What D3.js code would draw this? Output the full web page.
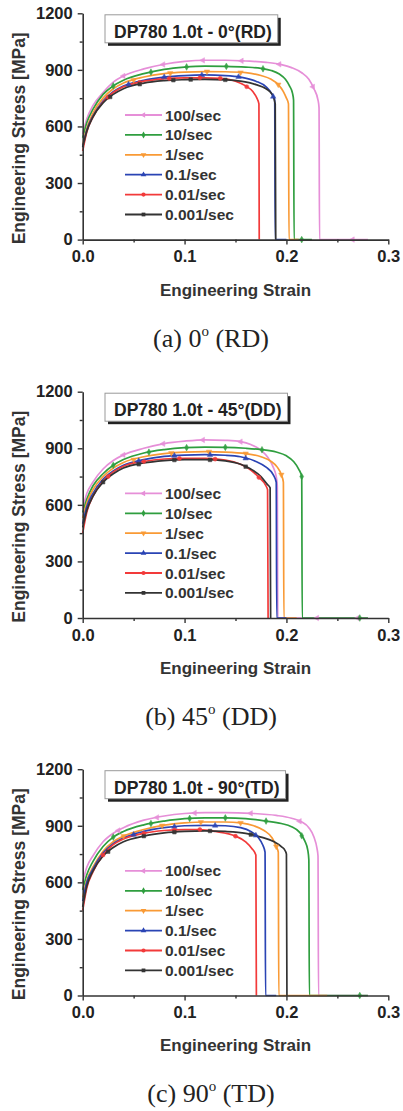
<!DOCTYPE html>
<html><head><meta charset="utf-8">
<script src="https://cdn.jsdelivr.net/npm/d3@7"></script>
<style>
body{margin:0;background:#fff;}
svg{display:block;}
</style></head>
<body>
<svg id="chart" width="403" height="1111"></svg>
<script>
// ---------------- DATA ----------------
const seriesNames = ["100/sec","10/sec","1/sec","0.1/sec","0.01/sec","0.001/sec"];
const panelTitles = ["DP780 1.0t - 0°(RD)","DP780 1.0t - 45°(DD)","DP780 1.0t - 90°(TD)"];
const captionLead = ["(a) 0","(b) 45","(c) 90"];
const captionTail = [" (RD)"," (DD)"," (TD)"];
const xTicks = [0.0,0.1,0.2,0.3];
const xMinor = [0.05,0.15,0.25];
const yTicks = [0,300,600,900,1200];
const yMinor = [150,450,750,1050];

// Panel (a) 0° RD : [strain, stress MPa]
const rd100 = [[0,560],[0.004,640],[0.01,710],[0.02,780],[0.03,835],[0.04,868],[0.06,905],[0.08,930],[0.10,945],[0.12,951],[0.14,951],[0.16,947],[0.18,940],[0.195,928],[0.205,912],[0.215,885],[0.222,850],[0.227,800],[0.231,740],[0.232,700],[0.2325,0],[0.28,0]];
const rd10  = [[0,540],[0.004,620],[0.01,690],[0.02,770],[0.03,815],[0.04,845],[0.06,880],[0.08,903],[0.10,915],[0.12,920],[0.14,919],[0.16,915],[0.175,908],[0.185,897],[0.193,878],[0.199,850],[0.203,815],[0.206,775],[0.207,740],[0.2075,0],[0.225,0]];
const rd1   = [[0,500],[0.004,590],[0.01,670],[0.02,750],[0.03,800],[0.04,830],[0.06,862],[0.08,880],[0.10,888],[0.12,891],[0.14,890],[0.16,885],[0.175,870],[0.185,850],[0.192,822],[0.197,785],[0.2,750],[0.202,720],[0.2025,0],[0.212,0]];
const rd01  = [[0,490],[0.004,580],[0.01,655],[0.02,735],[0.03,785],[0.04,815],[0.06,845],[0.08,862],[0.10,870],[0.12,873],[0.14,870],[0.155,862],[0.17,840],[0.18,810],[0.186,770],[0.1885,740],[0.189,0],[0.2,0]];
const rd001 = [[0,470],[0.004,570],[0.01,650],[0.02,730],[0.03,780],[0.04,810],[0.06,840],[0.08,853],[0.10,858],[0.12,858],[0.135,855],[0.15,840],[0.16,815],[0.167,785],[0.171,750],[0.173,720],[0.1733,0]];
const rd0001= [[0,490],[0.004,575],[0.01,650],[0.02,725],[0.03,770],[0.04,800],[0.06,830],[0.08,843],[0.10,848],[0.12,850],[0.14,847],[0.155,840],[0.17,822],[0.18,800],[0.186,770],[0.189,720],[0.1895,0]];

// Panel (b) 45° DD
const dd100 = [[0,580],[0.004,660],[0.01,720],[0.02,790],[0.03,835],[0.04,865],[0.06,900],[0.08,925],[0.10,938],[0.12,945],[0.14,942],[0.155,935],[0.165,920],[0.175,890],[0.182,850],[0.187,800],[0.19,750],[0.191,700],[0.1915,0],[0.28,0]];
const dd10  = [[0,560],[0.004,630],[0.01,700],[0.02,765],[0.03,810],[0.04,840],[0.06,875],[0.08,893],[0.10,903],[0.12,906],[0.14,905],[0.16,900],[0.175,893],[0.19,880],[0.2,860],[0.207,830],[0.212,790],[0.215,750],[0.2155,0],[0.28,0]];
const dd1   = [[0,530],[0.004,610],[0.01,680],[0.02,750],[0.03,795],[0.04,825],[0.06,855],[0.08,872],[0.10,880],[0.12,882],[0.14,880],[0.16,872],[0.175,855],[0.185,830],[0.191,800],[0.195,760],[0.197,720],[0.1975,0],[0.21,0]];
const dd01  = [[0,500],[0.004,590],[0.01,660],[0.02,735],[0.03,780],[0.04,810],[0.06,840],[0.08,857],[0.10,864],[0.12,866],[0.14,863],[0.155,855],[0.17,830],[0.18,800],[0.187,760],[0.19,720],[0.1905,0],[0.2,0]];
const dd001 = [[0,450],[0.004,560],[0.01,645],[0.02,725],[0.03,775],[0.04,805],[0.06,830],[0.08,843],[0.10,847],[0.12,847],[0.14,838],[0.155,815],[0.165,785],[0.173,745],[0.18,700],[0.1815,680],[0.182,0]];
const dd0001= [[0,480],[0.004,570],[0.01,645],[0.02,720],[0.03,765],[0.04,795],[0.06,822],[0.08,835],[0.10,840],[0.12,840],[0.14,833],[0.155,815],[0.165,790],[0.175,750],[0.181,710],[0.184,690],[0.1845,0]];

// Panel (c) 90° TD
const td100 = [[0,600],[0.004,680],[0.01,740],[0.02,815],[0.03,860],[0.04,890],[0.06,930],[0.08,952],[0.10,965],[0.12,970],[0.14,970],[0.165,966],[0.19,955],[0.205,940],[0.215,920],[0.222,890],[0.227,840],[0.23,780],[0.231,740],[0.2315,0],[0.28,0]];
const td10  = [[0,560],[0.004,640],[0.01,710],[0.02,790],[0.03,840],[0.04,870],[0.06,905],[0.08,925],[0.10,938],[0.12,942],[0.14,942],[0.16,938],[0.18,925],[0.195,912],[0.205,895],[0.213,865],[0.218,820],[0.221,770],[0.222,720],[0.2225,0],[0.28,0]];
const td1   = [[0,520],[0.004,610],[0.01,680],[0.02,765],[0.03,815],[0.04,845],[0.06,880],[0.08,903],[0.10,915],[0.12,920],[0.14,920],[0.155,915],[0.168,900],[0.178,875],[0.186,835],[0.19,790],[0.192,760],[0.1925,0],[0.24,0]];
const td01  = [[0,500],[0.004,600],[0.01,670],[0.02,755],[0.03,805],[0.04,835],[0.06,870],[0.08,890],[0.10,900],[0.12,902],[0.14,900],[0.155,890],[0.165,870],[0.172,840],[0.177,795],[0.179,760],[0.1795,0],[0.19,0]];
const td001 = [[0,450],[0.004,570],[0.01,655],[0.02,745],[0.03,800],[0.04,830],[0.06,860],[0.08,875],[0.10,880],[0.115,880],[0.13,870],[0.15,845],[0.16,815],[0.166,780],[0.17,745],[0.1705,0]];
const td0001= [[0,470],[0.004,580],[0.01,660],[0.02,740],[0.03,785],[0.04,815],[0.06,845],[0.08,862],[0.10,870],[0.12,873],[0.14,870],[0.16,860],[0.175,840],[0.188,815],[0.195,790],[0.199,765],[0.2,750],[0.2005,0]];

// Marker strain positions per series (symbols drawn on curve)
const rdMarks = [[0.04,0.079,0.118,0.156,0.193,0.226,0.265],[0.03,0.067,0.102,0.141,0.177,0.215],[0.05,0.086,0.122,0.155,0.192],[0.045,0.08,0.117,0.153,0.187],[0.025,0.056,0.085,0.115,0.135,0.161],[0.027,0.056,0.089,0.106,0.14]];
const ddMarks = [[0.04,0.079,0.118,0.155,0.23,0.27],[0.03,0.065,0.102,0.14,0.176,0.215,0.272],[0.05,0.087,0.124,0.16,0.195],[0.055,0.09,0.125,0.16],[0.025,0.06,0.095,0.13,0.173],[0.02,0.055,0.09,0.125,0.16]];
const tdMarks = [[0.035,0.073,0.11,0.165,0.213],[0.03,0.067,0.105,0.14,0.18,0.215,0.272],[0.04,0.078,0.116,0.155,0.19],[0.05,0.09,0.13,0.17],[0.02,0.06,0.09,0.115,0.15],[0.025,0.06,0.09,0.125,0.165]];

const panelData = [
  [rd100,rd10,rd1,rd01,rd001,rd0001],
  [dd100,dd10,dd1,dd01,dd001,dd0001],
  [td100,td10,td1,td01,td001,td0001]
];
const panelMarks = [rdMarks, ddMarks, tdMarks];

// ---------------- STYLE ----------------
const colors = ["#e68fd8","#2f9e3f","#f99a35","#2a44b4","#f23a3a","#333333"];
const symbols = [
  d3.symbolTriangle, // pink: left triangle (rotated)
  d3.symbolDiamond,
  d3.symbolTriangle, // down (rotated)
  d3.symbolTriangle, // up
  d3.symbolCircle,
  d3.symbolSquare
];
const symRot = [-90,0,180,0,0,0];
const sansFont = "'Liberation Sans', Arial, sans-serif";
const serifFont = "'Liberation Serif', 'Times New Roman', serif";

const svg = d3.select("#chart");
svg.append("rect").attr("width",403).attr("height",1111).attr("fill","#fff");

const left = 82.7, right = 388.3, plotH = 226.3;
const tops = [13.3, 391.7, 769.2];

const x = d3.scaleLinear().domain([0,0.3]).range([left,right]);
const y = d3.scaleLinear().domain([0,1200]).range([plotH,0]);

const line = d3.line().x(d=>x(d[0])).y(d=>y(d[1])).curve(d3.curveMonotoneX);

function interp(data, s){
  for(let i=0;i<data.length-1;i++){
    const a=data[i], b=data[i+1];
    if(s>=a[0] && s<=b[0]){
      const t = (b[0]-a[0])===0?0:(s-a[0])/(b[0]-a[0]);
      return a[1]+t*(b[1]-a[1]);
    }
  }
  return data[data.length-1][1];
}

tops.forEach((top,pi)=>{
  const g = svg.append("g").attr("transform",`translate(0,${top})`);

  const order = [0,1,2,3,4,5];
  order.forEach(si=>{
    g.append("path").datum(panelData[pi][si])
      .attr("d",line).attr("fill","none")
      .attr("stroke",colors[si]).attr("stroke-width",1.7)
      .attr("stroke-linejoin","round");
  });
  // markers
  order.forEach(si=>{
    const sym = d3.symbol().type(symbols[si]).size(13);
    g.selectAll(null).data(panelMarks[pi][si]).enter().append("path")
      .attr("d",sym)
      .attr("transform",s=>`translate(${x(s)},${y(interp(panelData[pi][si],s))}) rotate(${symRot[si]})`)
      .attr("fill",colors[si]).attr("stroke",colors[si]).attr("stroke-width",0.5).attr("opacity",0.9);
  });

  // axes
  g.append("g").attr("transform",`translate(0,${plotH})`)
    .call(d3.axisBottom(x).tickValues(xTicks).tickSize(5).tickSizeOuter(0).tickPadding(6).tickFormat(d3.format(".1f")));
  g.append("g").attr("transform",`translate(0,${plotH})`)
    .call(d3.axisBottom(x).tickValues(xMinor).tickSize(3).tickSizeOuter(0).tickFormat(""))
    .select(".domain").remove();
  g.append("g").attr("transform",`translate(${left},0)`)
    .call(d3.axisLeft(y).tickValues(yTicks).tickSize(5).tickSizeOuter(0).tickPadding(5).tickFormat(d3.format("d")));
  g.append("g").attr("transform",`translate(${left},0)`)
    .call(d3.axisLeft(y).tickValues(yMinor).tickSize(3).tickSizeOuter(0).tickFormat(""))
    .select(".domain").remove();
  g.selectAll(".domain").attr("stroke","#333").attr("stroke-width",1.6);
  g.selectAll(".tick line").attr("stroke","#333").attr("stroke-width",1.4);
  g.selectAll(".tick text").attr("font-family",sansFont).attr("font-weight","bold")
    .attr("font-size",16.5).attr("fill","#222");

  // axis titles
  g.append("text").attr("x",(left+right)/2).attr("y",plotH+56)
    .attr("text-anchor","middle").attr("font-family",sansFont).attr("font-weight","bold")
    .attr("font-size",17).attr("fill","#333").text("Engineering Strain");
  g.append("text").attr("transform",`translate(24.5,${125}) rotate(-90)`)
    .attr("text-anchor","middle").attr("font-family",sansFont).attr("font-weight","bold")
    .attr("font-size",17.5).attr("fill","#333").text("Engineering Stress [MPa]");

  // title box
  const tg = g.append("g");
  const tt = tg.append("text").attr("x",114).attr("y",24.5)
    .attr("font-family",sansFont).attr("font-weight","bold").attr("font-size",17.5)
    .attr("fill","#222").text(panelTitles[pi]);
  const tw = tt.node().getComputedTextLength();
  tg.insert("rect","text").attr("x",108).attr("y",4.5).attr("width",tw+15).attr("height",28).attr("fill","#222");
  tg.insert("rect","text").attr("x",105).attr("y",1.5).attr("width",tw+15).attr("height",28)
    .attr("fill","#fff").attr("stroke","#999").attr("stroke-width",1);

  // legend
  seriesNames.forEach((nm,si)=>{
    const cy = 101.7 + si*19.9;
    g.append("line").attr("x1",125).attr("x2",162).attr("y1",cy).attr("y2",cy)
      .attr("stroke",colors[si]).attr("stroke-width",1.8);
    g.append("path").attr("d",d3.symbol().type(symbols[si]).size(14))
      .attr("transform",`translate(143.5,${cy}) rotate(${symRot[si]})`).attr("fill",colors[si]);
    g.append("text").attr("x",165).attr("y",cy).attr("dy","0.36em")
      .attr("font-family",sansFont).attr("font-weight","bold").attr("font-size",15.5)
      .attr("fill","#333").text(nm);
  });

  // caption
  const cap = g.append("text").attr("x",211).attr("y",plotH+107).attr("text-anchor","middle")
    .attr("font-family",serifFont).attr("font-size",26).attr("fill","#222");
  cap.append("tspan").text(captionLead[pi]);
  cap.append("tspan").attr("font-size",15).attr("dy",-11).text("o");
  cap.append("tspan").attr("dy",11).text(captionTail[pi]);
});
</script>
</body></html>
